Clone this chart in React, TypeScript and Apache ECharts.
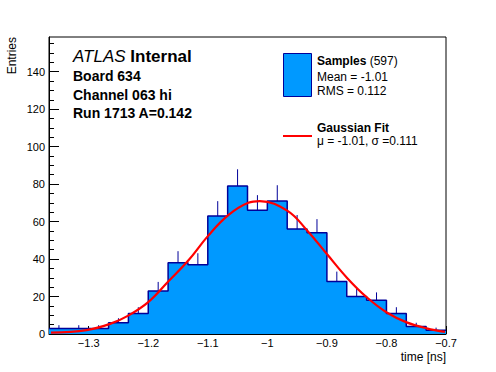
import React, { useEffect, useRef } from "react";
import * as echarts from "echarts";

// Histogram definition (20 bins)
const xMin = -1.366667;
const xMax = -0.7;
const binWidth = 0.0333333;
const counts = [3, 3, 3, 6, 11, 23, 38, 37, 63, 79, 66, 71, 56, 54, 28, 20, 18, 11, 4, 2];
const errUp = [1.7, 1.7, 1.7, 2.4, 3.3, 4.8, 6.2, 6.1, 7.9, 8.9, 8.1, 8.4, 7.5, 7.3, 5.3, 4.5, 4.2, 3.3, 2.0, 1.4];

// Gaussian fit curve
const fitX = [-1.3633, -1.3035, -1.264, -1.2336, -1.2, -1.1664, -1.1328, -1.0992, -1.0656, -1.032, -1.0126, -0.9661, -0.9325, -0.8993, -0.8657, -0.8331, -0.7995, -0.766, -0.7324, -0.7016];
const fitY = [0.7, 2.1, 5.4, 9.8, 17.0, 28.0, 39.2, 52.5, 63.4, 70.0, 70.9, 65.7, 55.0, 42.4, 29.8, 19.6, 11.5, 6.2, 3.0, 1.1];

const yMax = 158.5;
const xMajorTicks = [-1.3, -1.2, -1.1, -1.0, -0.9, -0.8, -0.7];
const xMinorTicks = [-1.36, -1.34, -1.32, -1.28, -1.26, -1.24, -1.22, -1.18, -1.16, -1.14, -1.12, -1.08, -1.06, -1.04, -1.02, -0.98, -0.96, -0.94, -0.92, -0.88, -0.86, -0.84, -0.82, -0.78, -0.76, -0.74, -0.72];
const yMajorTicks = [0, 20, 40, 60, 80, 100, 120, 140];
const yMinorTicks = [5, 10, 15, 25, 30, 35, 45, 50, 55, 65, 70, 75, 85, 90, 95, 105, 110, 115, 125, 130, 135, 145, 150, 155];

const FONT = "'Liberation Sans', Arial, Helvetica, sans-serif";
const FILL = "#0099ff";
const EDGE = "#000099";

export default function App() {
  const ref = useRef<HTMLDivElement>(null);
  useEffect(() => {
    document.body.style.margin = "0";
    if (!ref.current) return;
    const chart = echarts.init(ref.current, undefined, { renderer: "svg" });

    const stepData: number[][] = counts.map((c, i) => [xMin + i * binWidth, c]);
    stepData.push([xMin + counts.length * binWidth, counts[counts.length - 1]]);
    const errData = counts.map((c, i) => [xMin + (i + 0.5) * binWidth, c, c + errUp[i]]);
    const fitData = fitX.map((x, i) => [x, fitY[i]]);

    const grid = { left: 49, right: 50, top: 37, bottom: 38 };

    chart.setOption({
      animation: false,
      textStyle: { fontFamily: FONT },
      grid: [
        { ...grid, show: true, borderColor: "#000", borderWidth: 1, backgroundColor: "transparent" },
        { ...grid, show: false },
      ],
      xAxis: [
        {
          type: "value", gridIndex: 0, min: xMin, max: xMax,
          axisLine: { show: true, onZero: false, lineStyle: { color: "#000", width: 1 } },
          axisTick: { show: true, inside: true, length: 8, customValues: xMajorTicks, lineStyle: { color: "#000" } },
          axisLabel: {
            show: true, customValues: xMajorTicks, margin: 3, fontSize: 11, color: "#000", fontFamily: FONT,
            formatter: (v: number) => String(Math.round(v * 10) / 10).replace("-", "\u2212"),
          },
          splitLine: { show: false },
        },
        {
          type: "value", gridIndex: 1, min: xMin, max: xMax,
          axisLine: { show: false, onZero: false },
          axisTick: { show: true, inside: true, length: 4, customValues: xMinorTicks, lineStyle: { color: "#000" } },
          axisLabel: { show: false },
          splitLine: { show: false },
        },
      ],
      yAxis: [
        {
          type: "value", gridIndex: 0, min: 0, max: yMax,
          axisLine: { show: true, onZero: false, lineStyle: { color: "#000", width: 1 } },
          axisTick: { show: true, inside: true, length: 10, customValues: yMajorTicks, lineStyle: { color: "#000" } },
          axisLabel: { show: true, customValues: yMajorTicks, margin: 4, fontSize: 11, color: "#000", fontFamily: FONT },
          splitLine: { show: false },
        },
        {
          type: "value", gridIndex: 1, min: 0, max: yMax,
          axisLine: { show: false, onZero: false },
          axisTick: { show: true, inside: true, length: 5, customValues: yMinorTicks, lineStyle: { color: "#000" } },
          axisLabel: { show: false },
          splitLine: { show: false },
        },
      ],
      series: [
        {
          type: "line", xAxisIndex: 0, yAxisIndex: 0, data: stepData, step: "end",
          showSymbol: false, symbol: "none", z: 2,
          lineStyle: { color: EDGE, width: 1.5 },
          areaStyle: { color: FILL, opacity: 1 },
        },
        {
          type: "custom", xAxisIndex: 0, yAxisIndex: 0, data: errData, z: 3,
          encode: { x: 0, y: [1, 2] },
          renderItem: (params: any, api: any) => {
            const p0 = api.coord([api.value(0), api.value(1)]);
            const p1 = api.coord([api.value(0), api.value(2)]);
            return {
              type: "line",
              shape: { x1: p0[0], y1: p0[1], x2: p1[0], y2: p1[1] },
              style: { stroke: EDGE, lineWidth: 1 },
            };
          },
        },
        {
          type: "line", xAxisIndex: 0, yAxisIndex: 0, data: fitData, smooth: 0.4,
          showSymbol: false, symbol: "none", z: 4,
          lineStyle: { color: "#ff0000", width: 2.2 },
        },
      ],
      graphic: [
        {
          type: "text", x: 73, y: 56, z: 10,
          style: {
            text: "{i|ATLAS} {b|Internal}", fontSize: 17, fontFamily: FONT, fill: "#000", verticalAlign: "middle",
            rich: {
              i: { fontStyle: "italic", fontSize: 17, fontFamily: FONT, fill: "#000" },
              b: { fontWeight: "bold", fontSize: 17, fontFamily: FONT, fill: "#000" },
            },
          },
        },
        { type: "text", x: 73, y: 76, z: 10, style: { text: "Board 634", fontSize: 14, fontWeight: "bold", fontFamily: FONT, fill: "#000", verticalAlign: "middle" } },
        { type: "text", x: 73, y: 94.5, z: 10, style: { text: "Channel 063 hi", fontSize: 14, fontWeight: "bold", fontFamily: FONT, fill: "#000", verticalAlign: "middle" } },
        { type: "text", x: 73, y: 113, z: 10, style: { text: "Run 1713 A=0.142", fontSize: 14, fontWeight: "bold", fontFamily: FONT, fill: "#000", verticalAlign: "middle" } },
        { type: "rect", z: 10, shape: { x: 283.5, y: 53.5, width: 28, height: 43 }, style: { fill: FILL, stroke: EDGE, lineWidth: 1 } },
        {
          type: "text", x: 317, y: 61, z: 10,
          style: {
            text: "{b|Samples} (597)", fontSize: 12, fontFamily: FONT, fill: "#000", verticalAlign: "middle",
            rich: { b: { fontWeight: "bold", fontSize: 12, fontFamily: FONT, fill: "#000" } },
          },
        },
        { type: "text", x: 317, y: 76.5, z: 10, style: { text: "Mean = -1.01", fontSize: 12, fontFamily: FONT, fill: "#000", verticalAlign: "middle" } },
        { type: "text", x: 317, y: 91, z: 10, style: { text: "RMS = 0.112", fontSize: 12, fontFamily: FONT, fill: "#000", verticalAlign: "middle" } },
        { type: "line", z: 10, shape: { x1: 283, y1: 136, x2: 312, y2: 136 }, style: { stroke: "#ff0000", lineWidth: 2 } },
        { type: "text", x: 317, y: 128, z: 10, style: { text: "Gaussian Fit", fontSize: 12, fontWeight: "bold", fontFamily: FONT, fill: "#000", verticalAlign: "middle" } },
        { type: "text", x: 317, y: 141, z: 10, style: { text: "\u03bc = -1.01, \u03c3 =0.111", fontSize: 12, fontFamily: FONT, fill: "#000", verticalAlign: "middle" } },
        { type: "text", x: 12, y: 37, rotation: Math.PI / 2, z: 10, style: { text: "Entries", fontSize: 12, fontFamily: FONT, fill: "#000", align: "right", verticalAlign: "middle" } },
        { type: "text", x: 446, y: 356.5, z: 10, style: { text: "time [ns]", fontSize: 12, fontFamily: FONT, fill: "#000", align: "right", verticalAlign: "middle" } },
      ],
    });
    return () => chart.dispose();
  }, []);
  return <div ref={ref} style={{ position: "fixed", left: 0, top: 0, width: 496, height: 372, background: "#fff" }} />;
}
